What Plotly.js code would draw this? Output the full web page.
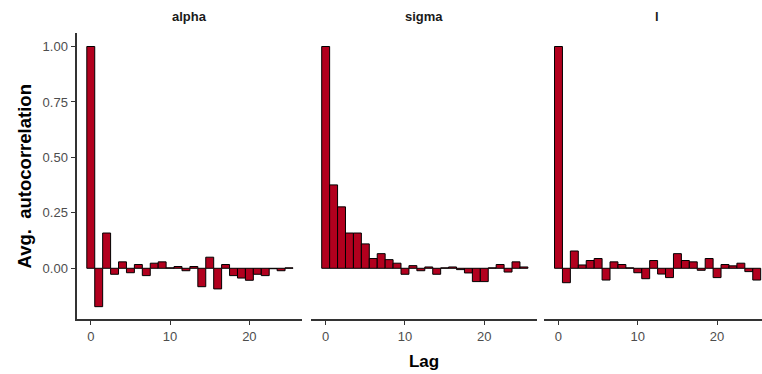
<!DOCTYPE html>
<html>
<head>
<meta charset="utf-8">
<script src="https://cdn.plot.ly/plotly-3.0.1.min.js"></script>
<style>html,body{margin:0;padding:0;background:#fff;}#chart{width:762px;height:374px;}</style>
</head>
<body>
<div id="chart"></div>
<script>
const lags = [0,1,2,3,4,5,6,7,8,9,10,11,12,13,14,15,16,17,18,19,20,21,22,23,24,25];
const panelNames = ["alpha", "sigma", "l"];
const alphaAcf = [1.0,-0.173,0.159,-0.027,0.029,-0.020,0.017,-0.033,0.023,0.029,0.002,0.008,-0.011,0.008,-0.083,0.050,-0.093,0.017,-0.033,-0.044,-0.054,-0.027,-0.033,-0.002,-0.011,0.002];
const sigmaAcf = [1.0,0.376,0.277,0.159,0.159,0.110,0.044,0.066,0.039,0.023,-0.027,0.012,-0.011,0.006,-0.027,0.002,0.006,-0.006,-0.021,-0.060,-0.060,0.002,0.017,-0.017,0.029,0.006];
const lAcf = [1.0,-0.065,0.078,0.015,0.035,0.044,-0.053,0.029,0.017,0.002,-0.020,-0.047,0.035,-0.026,-0.042,0.066,0.035,0.029,-0.009,0.044,-0.042,0.017,0.011,0.023,-0.015,-0.053];
const yTickVals = [0, 0.25, 0.5, 0.75, 1.0];
const yTickText = ["0.00", "0.25", "0.50", "0.75", "1.00"];
const xTickVals = [0, 10, 20];

const W = 762, H = 374;
const fill = "#b2001e";
const font = "Liberation Sans, Arial, sans-serif";
const series = [alphaAcf, sigmaAcf, lAcf];
const axSuffix = ["", "2", "3"];

const traces = series.map((vals, i) => ({
  type: "bar",
  x: lags,
  y: vals,
  xaxis: "x" + axSuffix[i],
  yaxis: "y" + axSuffix[i],
  marker: {color: fill, line: {color: "#000", width: 1}},
  hoverinfo: "x+y",
  showlegend: false
}));

const pxPerLag = 7.93;
const panelLeft = [76.5, 311.4, 544.2];
function xdom(i) {
  const l = panelLeft[i] / W;
  const r = Math.min(1, (panelLeft[i] + 28.4 * pxPerLag) / W);
  return [l, r];
}
function xrange(i) {
  const r = Math.min(panelLeft[i] + 28.4 * pxPerLag, W);
  return [-1.8, -1.8 + (r - panelLeft[i]) / pxPerLag];
}
const ydom = [(H - 319.3) / H, (H - 33.2) / H];
const yr = [-0.23, 1.06];

const baseX = (i) => ({
  domain: xdom(i), range: xrange(i), anchor: "y" + axSuffix[i],
  showgrid: false, zeroline: false,
  showline: true, linecolor: "#333", linewidth: 2,
  ticks: "outside", ticklen: 4, tickwidth: 1, tickcolor: "#333",
  tickvals: xTickVals,
  tickfont: {family: font, size: 13, color: "#4d4d4d"},
  fixedrange: true
});
const baseY = (i) => ({
  domain: ydom, range: yr, anchor: "x" + axSuffix[i],
  showgrid: false, zeroline: false, fixedrange: true,
  showline: i === 0, linecolor: "#333", linewidth: 2,
  ticks: i === 0 ? "outside" : "", ticklen: 4, tickwidth: 1, tickcolor: "#333",
  tickvals: yTickVals, ticktext: yTickText, showticklabels: i === 0,
  tickfont: {family: font, size: 13, color: "#4d4d4d"}
});

const layout = {
  width: W, height: H,
  margin: {l: 0, r: 0, t: 0, b: 0, autoexpand: false},
  paper_bgcolor: "#fff", plot_bgcolor: "#fff",
  bargap: 0,
  font: {family: font},
  xaxis: baseX(0), xaxis2: baseX(1), xaxis3: baseX(2),
  yaxis: baseY(0), yaxis2: baseY(1), yaxis3: baseY(2),
  annotations: panelNames.map((n, i) => ({
    text: "<b>" + n + "</b>",
    xref: "paper", yref: "paper",
    x: (panelLeft[i] + 14.2 * pxPerLag) / W, y: (H - 17) / H,
    xanchor: "center", yanchor: "middle", showarrow: false,
    font: {family: font, size: 13, color: "#1a1a1a"}
  }))
};
layout.xaxis2.title = {text: "<b>Lag</b>", font: {family: font, size: 17, color: "#000"}, standoff: 12};
layout.yaxis.title = {text: "<b>Avg.  autocorrelation</b>", font: {family: font, size: 18.5, color: "#000"}, standoff: 6};

Plotly.newPlot("chart", traces, layout, {displayModeBar: false, staticPlot: true});
</script>
</body>
</html>
